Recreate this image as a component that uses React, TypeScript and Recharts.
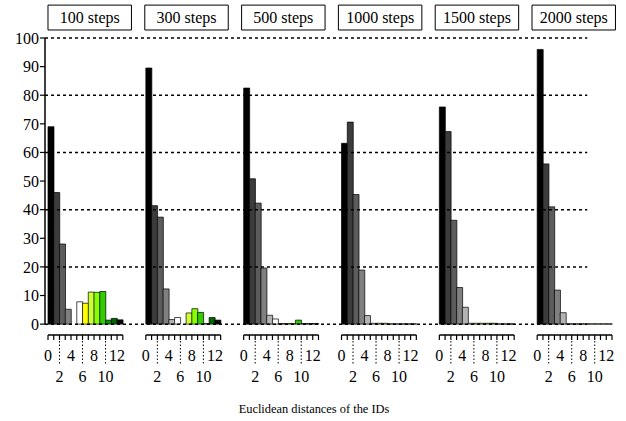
import React from 'react';
import { ComposedChart, Bar, Cell, XAxis, YAxis, ReferenceLine, ReferenceArea, Label } from 'recharts';

// ---- data ----
const distances = [0, 1, 2, 3, 4, 5, 6, 7, 8, 9, 10, 11, 12];
const panelLabels = ['100 steps', '300 steps', '500 steps', '1000 steps', '1500 steps', '2000 steps'];
const steps100 = [69, 46, 28, 5.2, 0, 7.8, 7.3, 11.2, 11.1, 11.4, 1.4, 2.0, 1.5];
const steps300 = [89.5, 41.4, 37.4, 12.3, 1.6, 2.3, 0, 3.9, 5.4, 4.1, 0.2, 2.3, 1.4];
const steps500 = [82.5, 50.8, 42.3, 19.6, 3.1, 1.8, 0.2, 0.2, 0.2, 1.4, 0.2, 0.2, 0.2];
const steps1000 = [63.2, 70.6, 45.3, 18.9, 3.0, 0.3, 0.3, 0.3, 0.1, 0.1, 0.1, 0.1, 0.1];
const steps1500 = [75.9, 67.3, 36.3, 12.8, 5.9, 0.3, 0.3, 0.3, 0.3, 0.3, 0.1, 0.1, 0.1];
const steps2000 = [96, 56, 41, 11.9, 4.0, 0.1, 0.1, 0.1, 0.1, 0.1, 0.1, 0.1, 0.1];
const distanceColors = [
  '#000000', '#3c3c3c', '#5c5c5c', '#808080', '#b4b4b4', '#ffffff', '#ffff00',
  '#ccff33', '#88ff00', '#33cc00', '#009900', '#006600', '#000000',
];
const yTicks = [0, 10, 20, 30, 40, 50, 60, 70, 80, 90, 100];
const gridValues = [0, 20, 40, 60, 80, 100];
const tickLabelsTop = [0, 4, 8, 12];
const tickLabelsBottom = [2, 6, 10];
const xTitle = 'Euclidean distances of the IDs';

const panelValues = [steps100, steps300, steps500, steps1000, steps1500, steps2000];

// ---- layout constants ----
const STRIDE = 17;
const N = distances.length;
const X_MIN = -0.52;
const X_MAX = 98.52;
const Y_MIN = -3.8;
const GRID_END = 93.7;
const FONT = "'Liberation Serif', 'Times New Roman', Times, serif";
const FS = 16;

const chartData = panelValues.flatMap((vals, p) =>
  vals.map((v, k) => ({ x: p * STRIDE + distances[k] + 0.5, value: v, k }))
);
const xTicks = panelLabels.flatMap((_, p) =>
  Array.from({ length: N + 1 }, (__, k) => p * STRIDE + k)
);

const DistanceTick = (props: any) => {
  const { x, y, payload } = props;
  const v = payload.value as number;
  const p = Math.floor(v / STRIDE);
  const k = Math.round(v - p * STRIDE);
  return (
    <g>
      <line x1={x} x2={x} y1={y} y2={y + 5} stroke="#000" strokeWidth={1.2} />
      {tickLabelsTop.includes(k) && (
        <text x={x} y={y + 26} textAnchor="middle" fontSize={FS} style={{ fontFamily: FONT }} fill="#000">
          {k}
        </text>
      )}
      {tickLabelsBottom.includes(k) && (
        <g>
          <line x1={x} x2={x} y1={y + 6} y2={y + 30} stroke="#000" strokeWidth={1} strokeDasharray="1.5 2" />
          <text x={x} y={y + 47} textAnchor="middle" fontSize={FS} style={{ fontFamily: FONT }} fill="#000">
            {k}
          </text>
        </g>
      )}
    </g>
  );
};

export default function App() {
  return (
    <div style={{ position: 'absolute', left: 0, top: 0, background: '#fff', fontFamily: FONT }}>
      <ComposedChart
        width={626}
        height={421}
        data={chartData}
        margin={{ top: 38, right: 11, left: 0, bottom: 0 }}
        barCategoryGap={0}
        barGap={0}
        style={{ fontFamily: FONT }}
      >
        <XAxis
          dataKey="x"
          type="number"
          domain={[X_MIN, X_MAX]}
          ticks={xTicks}
          interval={0}
          axisLine={false}
          tickLine={false}
          tickSize={0}
          tickMargin={0}
          height={86}
          tick={<DistanceTick />}
        >
          <Label
            value={xTitle}
            position="insideBottom"
            offset={8}
            dx={-16}
            fontSize={12.4}
            style={{ fontFamily: FONT }}
            fill="#000"
          />
        </XAxis>
        <YAxis
          type="number"
          domain={[Y_MIN, 100]}
          ticks={yTicks}
          interval={0}
          width={45}
          axisLine={false}
          tickLine={{ stroke: '#000', strokeWidth: 1.2 }}
          tickSize={5}
          tickMargin={1}
          tick={{ fontSize: FS, style: { fontFamily: FONT }, fill: '#000' }}
        />
        {gridValues.map((g) => (
          <ReferenceLine
            key={'g' + g}
            segment={[{ x: X_MIN, y: g }, { x: GRID_END, y: g }]}
            stroke="#000"
            strokeWidth={1.5}
            strokeDasharray="3 3"
            ifOverflow="visible"
          />
        ))}
        <ReferenceLine
          segment={[{ x: X_MIN, y: 0 }, { x: X_MIN, y: 100 }]}
          stroke="#000"
          strokeWidth={1.5}
          ifOverflow="visible"
        />
        {panelLabels.map((lbl, p) => (
          <ReferenceLine
            key={'ax' + p}
            segment={[{ x: p * STRIDE, y: Y_MIN }, { x: p * STRIDE + N, y: Y_MIN }]}
            stroke="#000"
            strokeWidth={1.5}
            ifOverflow="visible"
          />
        ))}
        {panelLabels.map((lbl, p) => (
          <ReferenceArea
            key={'box' + p}
            x1={p * STRIDE - p * 0.18}
            x2={p * STRIDE - p * 0.18 + 14.5}
            y1={102.8}
            y2={111.5}
            fill="#fff"
            fillOpacity={1}
            stroke="#000"
            strokeWidth={1}
            ifOverflow="visible"
          >
            <Label value={lbl} position="center" fontSize={FS} style={{ fontFamily: FONT }} fill="#000" />
          </ReferenceArea>
        ))}
        <Bar dataKey="value" isAnimationActive={false} stroke="#000" strokeWidth={0.7}>
          {chartData.map((d, i) => (
            <Cell key={i} fill={distanceColors[d.k]} />
          ))}
        </Bar>
      </ComposedChart>
    </div>
  );
}
